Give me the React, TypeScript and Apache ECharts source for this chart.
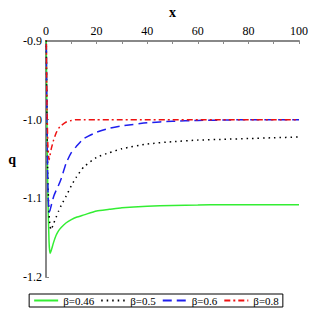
import React, { useEffect, useRef } from "react";
import * as echarts from "echarts";

const xs = [0, 0.3, 0.7, 1.2, 1.6, 2, 3, 4, 5, 6, 8, 10, 12, 15, 20, 25, 30, 40, 50, 60, 70, 80, 90, 100];
const q046 = [-0.85, -0.98, -1.09, -1.155, -1.17, -1.167, -1.156, -1.147, -1.141, -1.137, -1.131, -1.127, -1.124, -1.121, -1.116, -1.114, -1.112, -1.11, -1.109, -1.1085, -1.108, -1.108, -1.108, -1.108];
const q05 = [-0.85, -0.97, -1.07, -1.12, -1.135, -1.14, -1.132, -1.124, -1.116, -1.109, -1.097, -1.084, -1.073, -1.06, -1.048, -1.042, -1.037, -1.031, -1.028, -1.026, -1.025, -1.024, -1.023, -1.022];
const q06 = [-0.85, -0.97, -1.08, -1.1175, -1.115, -1.11, -1.098, -1.09, -1.083, -1.075, -1.055, -1.042, -1.034, -1.024, -1.016, -1.011, -1.008, -1.004, -1.002, -1.001, -1.0005, -1.0, -1.0, -1.0];
const q08 = [-0.85, -0.96, -1.03, -1.051, -1.045, -1.038, -1.026, -1.017, -1.011, -1.0075, -1.003, -1.001, -1.0, -1.0, -1.0, -1.0, -1.0, -1.0, -1.0, -1.0, -1.0, -1.0, -1.0, -1.0];
const names = ["β=0.46", "β=0.5", "β=0.6", "β=0.8"];

const font = "'Liberation Serif', 'Times New Roman', serif";

export default function App() {
  const ref = useRef<HTMLDivElement>(null);
  useEffect(() => {
    const chart = echarts.init(ref.current!, null, { renderer: "svg" });
    const mk = (name: string, ys: number[], color: string, type: any) => ({
      name,
      type: "line",
      symbol: "none",
      smooth: 0.2,
      data: xs.map((x, i) => [x, ys[i]]),
      lineStyle: { color, width: 1.5, type },
      itemStyle: { color },
      clip: true,
    });
    chart.setOption({
      animation: false,
      textStyle: { fontFamily: font },
      grid: { left: 46, right: 13, top: 36, bottom: 35 },
      xAxis: {
        type: "value",
        position: "top",
        min: 0,
        max: 100,
        interval: 20,
        name: "x",
        nameLocation: "middle",
        nameGap: 22,
        nameTextStyle: { fontFamily: font, fontWeight: "bold", fontSize: 14, color: "#000" },
        axisLine: { onZero: false, lineStyle: { color: "#888", width: 2 } },
        axisTick: { inside: true, length: 3, lineStyle: { color: "#888" } },
        minorTick: { show: true, splitNumber: 2, length: 3, lineStyle: { color: "#888" } },
        axisLabel: { color: "#000", fontFamily: font, fontSize: 12, margin: 4 },
        splitLine: { show: false },
      },
      yAxis: {
        type: "value",
        min: -1.2,
        max: -0.9,
        interval: 0.1,
        name: "q",
        nameLocation: "middle",
        nameRotate: 0,
        nameGap: 30,
        nameTextStyle: { fontFamily: font, fontWeight: "bold", fontSize: 14, color: "#000" },
        axisLine: { onZero: false, lineStyle: { color: "#888", width: 2 } },
        axisTick: { inside: true, length: 3, lineStyle: { color: "#888" } },
        axisLabel: {
          color: "#000",
          fontFamily: font,
          fontSize: 12,
          margin: 4,
          formatter: (v: number) => v.toFixed(1),
        },
        splitLine: { show: false },
      },
      legend: {
        bottom: 5,
        left: "center",
        borderColor: "#000",
        borderWidth: 1,
        borderRadius: 0,
        padding: [1, 4],
        itemWidth: 24,
        itemHeight: 10,
        itemGap: 6,
        itemStyle: { opacity: 0 },
        textStyle: { fontFamily: font, fontSize: 11, color: "#000", padding: [0, 0, 0, 0] },
        data: names,
      },
      series: [
        mk(names[0], q046, "#33ee33", "solid"),
        mk(names[1], q05, "#000000", [1.5, 4]),
        mk(names[2], q06, "#1f1fee", [9, 5]),
        mk(names[3], q08, "#ee1111", [6, 3, 2, 3]),
      ],
    });
    return () => chart.dispose();
  }, []);
  return <div ref={ref} style={{ position: "absolute", left: 0, top: 0, width: 312, height: 312 }} />;
}
